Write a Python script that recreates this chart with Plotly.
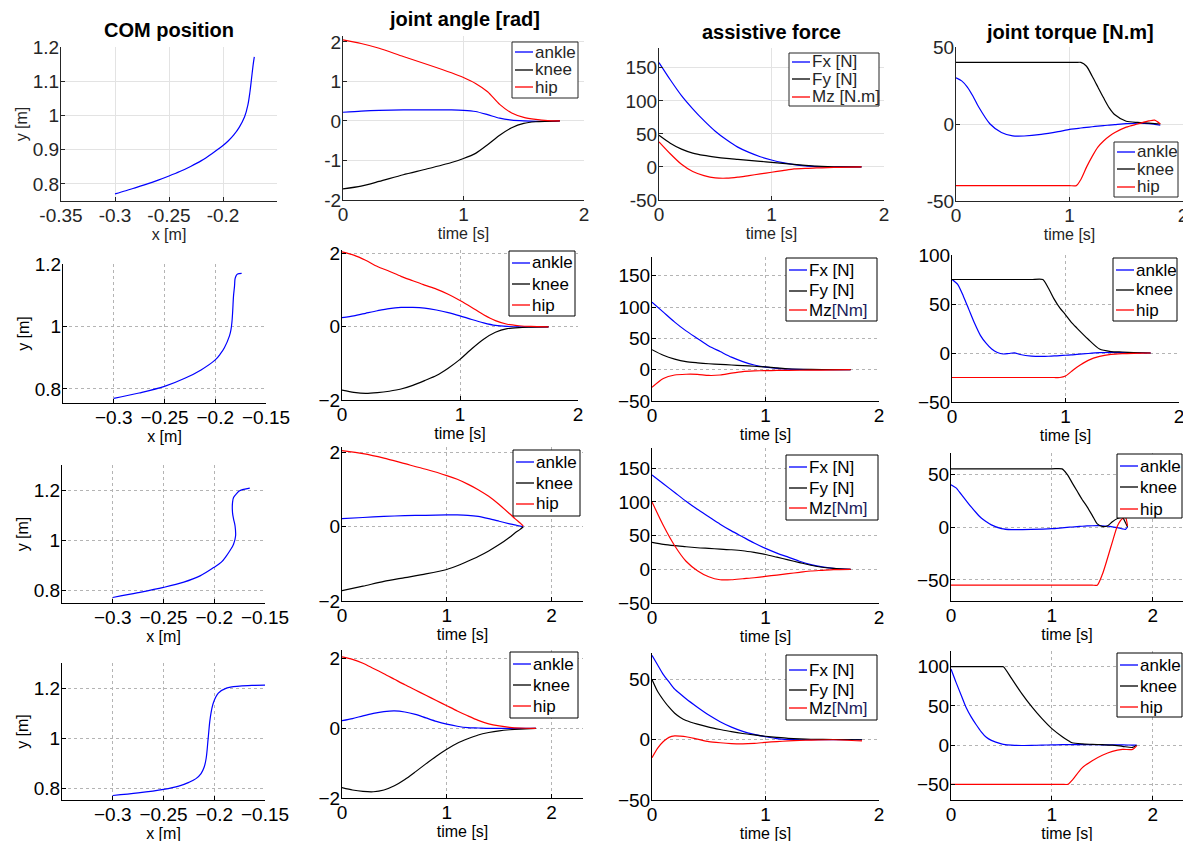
import plotly.graph_objects as go

# ------------------------------------------------------------------ data
# Row 1
COM1_X = [-0.300, -0.290, -0.280, -0.270, -0.260, -0.250, -0.240, -0.230, -0.220, -0.210, -0.200, -0.195, -0.190, -0.185, -0.180, -0.177, -0.175, -0.1735, -0.172, -0.171]
COM1_Y = [0.771, 0.780, 0.790, 0.800, 0.811, 0.823, 0.836, 0.851, 0.868, 0.889, 0.912, 0.926, 0.943, 0.965, 0.996, 1.030, 1.070, 1.110, 1.150, 1.171]
T1_ANG = [0, 0.15, 0.3, 0.5, 0.7, 0.9, 1.0, 1.1, 1.2, 1.3, 1.4, 1.5, 1.6, 1.7, 1.8]
ANG1_ANKLE = [0.22, 0.25, 0.27, 0.28, 0.28, 0.28, 0.27, 0.24, 0.16, 0.07, 0.02, 0.0, -0.01, -0.01, 0.0]
ANG1_KNEE = [-1.72, -1.65, -1.53, -1.36, -1.21, -1.05, -0.95, -0.82, -0.60, -0.36, -0.17, -0.06, -0.02, -0.01, 0.0]
ANG1_HIP = [2.05, 1.96, 1.84, 1.63, 1.43, 1.22, 1.10, 0.95, 0.74, 0.42, 0.20, 0.09, 0.04, 0.01, 0.0]
T1_FRC = [0, 0.1, 0.2, 0.3, 0.4, 0.5, 0.6, 0.7, 0.8, 0.9, 1.0, 1.1, 1.2, 1.3, 1.4, 1.5, 1.6, 1.8]
FRC1_FX = [158, 132, 108, 88, 70, 54, 41, 30, 22, 15.5, 10.5, 6.5, 3.5, 1.5, 0.5, 0, 0, 0]
FRC1_FY = [48, 36, 27, 21, 17.5, 15, 13, 11.5, 10, 8.5, 7, 5.5, 4, 2.5, 1.2, 0.5, 0.2, 0]
FRC1_MZ = [38, 20, 4, -7, -13, -16.5, -17, -15.5, -13, -10.5, -8, -5.5, -3, -2, -1.5, -1, -0.5, 0]
T1_TRQ = [0, 0.05, 0.1, 0.15, 0.2, 0.3, 0.4, 0.5, 0.6, 0.75, 0.9, 1.0, 1.06, 1.1, 1.15, 1.2, 1.25, 1.3, 1.35, 1.4, 1.5, 1.6, 1.7, 1.75, 1.8]
TRQ1_ANKLE = [30, 28, 24, 18, 11, 0, -5.5, -7.7, -7.8, -6.8, -5, -3.5, -3.0, -2.6, -2.2, -1.8, -1.4, -1.0, -0.7, -0.4, 0.2, 0.5, 0.3, -0.2, -0.8]
TRQ1_KNEE = [40, 40, 40, 40, 40, 40, 40, 40, 40, 40, 40, 40, 40, 40, 37.5, 31, 24, 17, 10.5, 6, 1.8, 1, 0.6, 0.3, 0]
TRQ1_HIP = [-40, -40, -40, -40, -40, -40, -40, -40, -40, -40, -40, -40, -40, -36, -28, -21, -15, -11, -8, -5.5, -2, 0, 2, 2.5, 0]

# Row 2
COM2_X = [-0.300, -0.275, -0.250, -0.230, -0.214, -0.200, -0.195, -0.191, -0.186, -0.1845, -0.1836, -0.1828, -0.182, -0.181, -0.1805, -0.1795, -0.178, -0.174]
COM2_Y = [0.770, 0.787, 0.808, 0.834, 0.861, 0.893, 0.912, 0.932, 0.970, 0.990, 1.013, 1.050, 1.098, 1.130, 1.152, 1.162, 1.168, 1.170]
T2_ANG = [0, 0.1, 0.2, 0.3, 0.4, 0.5, 0.6, 0.7, 0.8, 0.9, 1.0, 1.1, 1.2, 1.3, 1.4, 1.5, 1.6, 1.75]
ANG2_ANKLE = [0.25, 0.30, 0.37, 0.44, 0.50, 0.53, 0.53, 0.51, 0.46, 0.39, 0.30, 0.20, 0.11, 0.04, 0.01, 0, 0, 0]
ANG2_KNEE = [-1.73, -1.79, -1.82, -1.80, -1.76, -1.70, -1.60, -1.47, -1.33, -1.13, -0.89, -0.60, -0.34, -0.15, -0.05, -0.02, -0.01, 0]
ANG2_HIP = [2.05, 1.96, 1.82, 1.65, 1.52, 1.38, 1.26, 1.14, 1.03, 0.89, 0.72, 0.53, 0.33, 0.17, 0.07, 0.03, 0.01, 0]
T2_FRC = [0, 0.1, 0.2, 0.3, 0.4, 0.5, 0.6, 0.7, 0.8, 0.9, 1.0, 1.1, 1.2, 1.4, 1.6, 1.75]
FRC2_FX = [108, 92, 76, 62, 50, 38, 29, 20, 13, 7.5, 4, 2, 0.8, 0.2, 0, 0]
FRC2_FY = [32, 23, 17, 13, 11, 9.5, 8.5, 7.5, 6.5, 5.5, 4.5, 3, 1.5, 0.5, 0.2, 0]
FRC2_MZ = [-28, -14, -8.5, -7.3, -7.5, -9.2, -8.5, -5.5, -3, -2, -1.5, -1.2, -1, -0.8, -0.4, 0]
T2_TRQ = [0, 0.05, 0.1, 0.15, 0.2, 0.25, 0.3, 0.35, 0.4, 0.45, 0.5, 0.55, 0.6, 0.7, 0.8, 0.85, 0.9, 0.95, 1.0, 1.05, 1.1, 1.2, 1.3, 1.4, 1.5, 1.6, 1.75]
TRQ2_ANKLE = [75, 70, 58, 44, 30, 18, 10, 4, 0.5, -1, -0.5, 0.2, -1.5, -3.2, -3.5, -3.3, -3, -2.7, -2.3, -2, -1.5, -0.5, 0.3, 0.5, 0.3, 0.1, 0]
TRQ2_KNEE = [75, 75, 75, 75, 75, 75, 75, 75, 75, 75, 75, 75, 75, 75, 75, 66, 55, 46, 39, 31.5, 25.5, 14, 4, 1.5, 1, 0.5, 0]
TRQ2_HIP = [-25, -25, -25, -25, -25, -25, -25, -25, -25, -25, -25, -25, -25, -25, -25, -25, -25, -25, -23.5, -19, -14.5, -7.5, -3.5, -1.5, -0.7, -0.3, 0]

# Row 3
COM3_X = [-0.300, -0.275, -0.250, -0.230, -0.214, -0.2006, -0.193, -0.188, -0.184, -0.181, -0.179, -0.1795, -0.181, -0.182, -0.182, -0.181, -0.178, -0.175, -0.171, -0.165]
COM3_Y = [0.772, 0.791, 0.812, 0.833, 0.858, 0.891, 0.913, 0.938, 0.962, 0.984, 1.017, 1.057, 1.085, 1.110, 1.150, 1.170, 1.186, 1.197, 1.203, 1.208]
T3_ANG = [0, 0.2, 0.4, 0.6, 0.8, 1.0, 1.1, 1.2, 1.3, 1.4, 1.5, 1.6, 1.65, 1.7, 1.73]
ANG3_ANKLE = [0.22, 0.25, 0.28, 0.30, 0.31, 0.32, 0.32, 0.31, 0.28, 0.22, 0.15, 0.08, 0.05, 0.02, 0.0]
ANG3_KNEE = [-1.72, -1.60, -1.47, -1.37, -1.27, -1.15, -1.05, -0.93, -0.80, -0.65, -0.48, -0.28, -0.17, -0.07, 0.0]
ANG3_HIP = [2.05, 1.97, 1.85, 1.70, 1.55, 1.38, 1.28, 1.15, 1.00, 0.82, 0.60, 0.35, 0.22, 0.10, 0.02]
T3_FRC = [0, 0.1, 0.2, 0.3, 0.4, 0.5, 0.6, 0.7, 0.8, 0.9, 1.0, 1.1, 1.2, 1.3, 1.4, 1.5, 1.6, 1.75]
FRC3_FX = [140, 127, 114, 101, 89, 78, 67, 57, 48, 39, 31, 24, 18, 12, 7, 3.5, 1.5, 0]
FRC3_FY = [40, 37, 35, 33.5, 32, 31, 30, 29, 27.5, 25, 22, 18, 14, 10, 6, 3, 1.5, 0]
FRC3_MZ = [100, 65, 35, 12, -2, -11, -15.5, -15.5, -14, -12.5, -10.5, -8.5, -6.5, -4.5, -2.5, -1.5, -0.5, 0]
T3_TRQ = [0, 0.05, 0.1, 0.15, 0.2, 0.25, 0.3, 0.35, 0.4, 0.5, 0.6, 0.8, 1.0, 1.1, 1.15, 1.2, 1.25, 1.3, 1.35, 1.4, 1.45, 1.5, 1.55, 1.6, 1.65, 1.7, 1.73, 1.75]
TRQ3_ANKLE = [40, 37, 31, 25, 19, 13.5, 8.5, 5, 2, -1.5, -2.5, -2.3, -1.6, -0.8, -0.4, 0, 0.4, 0.7, 1, 1.2, 1.3, 1.2, 0.8, 0.2, -0.6, -1.8, -2.2, 0]
TRQ3_KNEE = [55, 55, 55, 55, 55, 55, 55, 55, 55, 55, 55, 55, 55, 55, 50, 42, 34, 26, 19, 11, 3, 0.5, 1, 5, 8, 9, 4, 0]
TRQ3_HIP = [-55, -55, -55, -55, -55, -55, -55, -55, -55, -55, -55, -55, -55, -55, -55, -55, -55, -55, -55, -55, -55, -45, -30, -14, 1, 8, 9, 1]

# Row 4
COM4_X = [-0.300, -0.275, -0.250, -0.235, -0.225, -0.218, -0.213, -0.210, -0.208, -0.206, -0.204, -0.201, -0.196, -0.188, -0.175, -0.160, -0.150]
COM4_Y = [0.773, 0.783, 0.797, 0.810, 0.825, 0.840, 0.860, 0.885, 0.920, 1.000, 1.080, 1.140, 1.180, 1.200, 1.208, 1.211, 1.212]
T4_ANG = [0, 0.1, 0.2, 0.3, 0.4, 0.5, 0.6, 0.7, 0.8, 0.9, 1.0, 1.1, 1.2, 1.3, 1.4, 1.5, 1.6, 1.7, 1.85]
ANG4_ANKLE = [0.22, 0.28, 0.36, 0.43, 0.48, 0.50, 0.47, 0.40, 0.30, 0.20, 0.12, 0.06, 0.02, 0.01, 0, 0, 0, 0, 0]
ANG4_KNEE = [-1.70, -1.77, -1.81, -1.82, -1.77, -1.65, -1.47, -1.25, -1.02, -0.80, -0.60, -0.43, -0.30, -0.19, -0.12, -0.07, -0.04, -0.02, 0]
ANG4_HIP = [2.05, 1.98, 1.87, 1.72, 1.57, 1.41, 1.25, 1.10, 0.95, 0.80, 0.65, 0.50, 0.36, 0.23, 0.13, 0.07, 0.03, 0.01, 0]
T4_FRC = [0, 0.05, 0.1, 0.15, 0.2, 0.25, 0.3, 0.4, 0.5, 0.6, 0.7, 0.8, 0.9, 1.0, 1.1, 1.2, 1.3, 1.4, 1.6, 1.85]
FRC4_FX = [70, 62, 54, 48, 42, 38, 34, 27, 20.5, 15, 10.5, 7, 4.5, 2.5, 1, 0.3, 0, 0, 0, 0]
FRC4_FY = [50, 40, 33, 27, 22, 18.5, 16, 13, 10.5, 8.5, 6.7, 5.2, 4, 2.9, 2, 1.2, 0.7, 0.4, 0.2, 0]
FRC4_MZ = [-15, -7, -1.5, 2, 3.2, 3, 2.5, 0.5, -1.5, -2.5, -3.2, -3.4, -3, -2.2, -1.5, -1, -0.6, -0.3, 0, -1]
T4_TRQ = [0, 0.05, 0.1, 0.15, 0.2, 0.25, 0.3, 0.35, 0.4, 0.5, 0.52, 0.6, 0.7, 0.8, 0.9, 1.0, 1.1, 1.16, 1.2, 1.3, 1.4, 1.5, 1.6, 1.7, 1.8, 1.84]
TRQ4_ANKLE = [97, 80, 64, 48, 36, 26, 17, 10, 6, 1.5, 1, 0, -0.5, -0.4, 0, 0.3, 0.5, 0.5, 0.5, 0.5, 0.5, 0.4, 0.3, 0.2, 0.1, 0]
TRQ4_KNEE = [100, 100, 100, 100, 100, 100, 100, 100, 100, 100, 100, 85, 66, 49, 34, 21, 11, 6, 3, 1.5, 1, 0.5, 0, -1.5, -3, 0]
TRQ4_HIP = [-50, -50, -50, -50, -50, -50, -50, -50, -50, -50, -50, -50, -50, -50, -50, -50, -50, -50, -45, -29, -20, -13, -8, -5.5, -5.5, -1]

# tick labels / titles / legend names
COL_TITLES = ["COM position", "joint angle [rad]", "assistive force", "joint torque [N.m]"]
JOINT_NAMES = ["ankle", "knee", "hip"]
FORCE_NAMES_1 = ["Fx [N]", "Fy [N]", "Mz [N.m]"]
FORCE_NAMES_2 = ["Fx [N]", "Fy [N]", "Mz<span style=\"color:#1c1c5a\">[Nm]</span>"]

# ------------------------------------------------------------------ layout helpers
W, H = 1191, 841
OFF = 8  # page body margin: screen px = figure px + OFF
BLUE, BLACK, RED = "#0000ff", "#000000", "#ff0000"
FONT = "Liberation Sans, Arial, sans-serif"


def lab(v, style):
    s = "%g" % v
    return s.replace("-", "\u2212") if style == "old" else s


# (row, col, left, right, top, bottom, xrange, yrange, xticks, yticks, xlabel, ylabel) in screen px
PANELS = [
    (1, 1, 61, 277, 47, 201, [-0.35, -0.15], [0.75, 1.2], [-0.35, -0.3, -0.25, -0.2, -0.15], [0.8, 0.9, 1, 1.1, 1.2], "x [m]", "y [m]"),
    (1, 2, 343, 584, 36, 200, [0, 2], [-2, 2.15], [0, 1, 2], [-2, -1, 0, 1, 2], "time [s]", None),
    (1, 3, 659, 884, 48, 200, [0, 2], [-50, 180], [0, 1, 2], [-50, 0, 50, 100, 150], "time [s]", None),
    (1, 4, 956, 1183, 47, 201, [0, 2], [-50, 50], [0, 1, 2], [-50, 0, 50], "time [s]", None),
    (2, 1, 63, 266, 264, 403, [-0.35, -0.15], [0.755, 1.2], [-0.3, -0.25, -0.2, -0.15], [0.8, 1, 1.2], "x [m]", "y [m]"),
    (2, 2, 342, 578, 250, 400, [0, 2], [-2, 2.1], [0, 1, 2], [-2, 0, 2], "time [s]", None),
    (2, 3, 652, 879, 257, 401, [0, 2], [-50, 180], [0, 1, 2], [-50, 0, 50, 100, 150], "time [s]", None),
    (2, 4, 952, 1179, 255, 402, [0, 2], [-50, 100], [0, 1, 2], [-50, 0, 50, 100], "time [s]", None),
    (3, 1, 62, 265, 465, 603, [-0.35, -0.15], [0.75, 1.3], [-0.3, -0.25, -0.2, -0.15], [0.8, 1, 1.2], "x [m]", "y [m]"),
    (3, 2, 342, 583, 447, 601, [0, 2.3], [-2, 2.15], [0, 1, 2], [-2, 0, 2], "time [s]", None),
    (3, 3, 652, 879, 448, 603, [0, 2], [-50, 180], [0, 1, 2], [-50, 0, 50, 100, 150], "time [s]", None),
    (3, 4, 951, 1183, 453, 601, [0, 2.3], [-70, 70], [0, 1, 2], [-50, 0, 50], "time [s]", None),
    (4, 1, 62, 265, 663, 800, [-0.35, -0.15], [0.755, 1.3], [-0.3, -0.25, -0.2, -0.15], [0.8, 1, 1.2], "x [m]", "y [m]"),
    (4, 2, 342, 583, 650, 798, [0, 2.3], [-2, 2.25], [0, 1, 2], [-2, 0, 2], "time [s]", None),
    (4, 3, 652, 879, 653, 800, [0, 2], [-50, 72], [0, 1, 2], [-50, 0, 50], "time [s]", None),
    (4, 4, 951, 1183, 651, 800, [0, 2.3], [-70, 120], [0, 1, 2], [-50, 0, 50, 100], "time [s]", None),
]

# legend boxes in screen px: left, right, top, bottom, item centre y's
LEGEND_BOX = {
    (1, 2): (512, 578, 42, 98, [52, 70, 87]),
    (1, 3): (789, 879, 53, 106, [62, 79, 97]),
    (1, 4): (1114, 1178, 142, 197, [152, 169, 187]),
    (2, 2): (509, 575, 251, 316, [263, 284, 305]),
    (2, 3): (786, 877, 258, 321, [270, 291, 310]),
    (2, 4): (1113, 1177, 258, 321, [270, 290, 310]),
    (3, 2): (513, 580, 450, 516, [462, 483, 504]),
    (3, 3): (786, 878, 455, 520, [467, 488, 508]),
    (3, 4): (1117, 1182, 454, 518, [466, 487, 509]),
    (4, 2): (510, 578, 652, 718, [664, 685, 706]),
    (4, 3): (786, 877, 655, 720, [670, 690, 708]),
    (4, 4): (1117, 1182, 653, 717, [665, 686, 707]),
}

SERIES = {
    (1, 1): [(COM1_X, COM1_Y, BLUE, None)],
    (2, 1): [(COM2_X, COM2_Y, BLUE, None)],
    (3, 1): [(COM3_X, COM3_Y, BLUE, None)],
    (4, 1): [(COM4_X, COM4_Y, BLUE, None)],
    (1, 2): [(T1_ANG, ANG1_ANKLE, BLUE, JOINT_NAMES[0]), (T1_ANG, ANG1_KNEE, BLACK, JOINT_NAMES[1]), (T1_ANG, ANG1_HIP, RED, JOINT_NAMES[2])],
    (2, 2): [(T2_ANG, ANG2_ANKLE, BLUE, JOINT_NAMES[0]), (T2_ANG, ANG2_KNEE, BLACK, JOINT_NAMES[1]), (T2_ANG, ANG2_HIP, RED, JOINT_NAMES[2])],
    (3, 2): [(T3_ANG, ANG3_ANKLE, BLUE, JOINT_NAMES[0]), (T3_ANG, ANG3_KNEE, BLACK, JOINT_NAMES[1]), (T3_ANG, ANG3_HIP, RED, JOINT_NAMES[2])],
    (4, 2): [(T4_ANG, ANG4_ANKLE, BLUE, JOINT_NAMES[0]), (T4_ANG, ANG4_KNEE, BLACK, JOINT_NAMES[1]), (T4_ANG, ANG4_HIP, RED, JOINT_NAMES[2])],
    (1, 3): [(T1_FRC, FRC1_FX, BLUE, FORCE_NAMES_1[0]), (T1_FRC, FRC1_FY, BLACK, FORCE_NAMES_1[1]), (T1_FRC, FRC1_MZ, RED, FORCE_NAMES_1[2])],
    (2, 3): [(T2_FRC, FRC2_FX, BLUE, FORCE_NAMES_2[0]), (T2_FRC, FRC2_FY, BLACK, FORCE_NAMES_2[1]), (T2_FRC, FRC2_MZ, RED, FORCE_NAMES_2[2])],
    (3, 3): [(T3_FRC, FRC3_FX, BLUE, FORCE_NAMES_2[0]), (T3_FRC, FRC3_FY, BLACK, FORCE_NAMES_2[1]), (T3_FRC, FRC3_MZ, RED, FORCE_NAMES_2[2])],
    (4, 3): [(T4_FRC, FRC4_FX, BLUE, FORCE_NAMES_2[0]), (T4_FRC, FRC4_FY, BLACK, FORCE_NAMES_2[1]), (T4_FRC, FRC4_MZ, RED, FORCE_NAMES_2[2])],
    (1, 4): [(T1_TRQ, TRQ1_ANKLE, BLUE, JOINT_NAMES[0]), (T1_TRQ, TRQ1_KNEE, BLACK, JOINT_NAMES[1]), (T1_TRQ, TRQ1_HIP, RED, JOINT_NAMES[2])],
    (2, 4): [(T2_TRQ, TRQ2_ANKLE, BLUE, JOINT_NAMES[0]), (T2_TRQ, TRQ2_KNEE, BLACK, JOINT_NAMES[1]), (T2_TRQ, TRQ2_HIP, RED, JOINT_NAMES[2])],
    (3, 4): [(T3_TRQ, TRQ3_ANKLE, BLUE, JOINT_NAMES[0]), (T3_TRQ, TRQ3_KNEE, BLACK, JOINT_NAMES[1]), (T3_TRQ, TRQ3_HIP, RED, JOINT_NAMES[2])],
    (4, 4): [(T4_TRQ, TRQ4_ANKLE, BLUE, JOINT_NAMES[0]), (T4_TRQ, TRQ4_KNEE, BLACK, JOINT_NAMES[1]), (T4_TRQ, TRQ4_HIP, RED, JOINT_NAMES[2])],
}


def px(xp):
    return (xp - OFF) / W


def py(yp):
    return 1 - (yp - OFF) / H


fig = go.Figure()
layout = dict(
    width=W, height=H, margin=dict(l=0, r=0, t=0, b=0, autoexpand=False),
    paper_bgcolor="white", plot_bgcolor="white", showlegend=False,
    font=dict(family=FONT, size=16, color="black"),
    annotations=[], shapes=[],
)

for k, (row, col, l, r, t, b, xr, yr, xt, yt, xlabel, ylabel) in enumerate(PANELS):
    i = k + 1
    sfx = "" if i == 1 else str(i)
    style = "new" if row == 1 else "old"
    axcol = "#262626" if style == "new" else "black"
    grid = dict(showgrid=True, gridcolor="#e3e3e3", gridwidth=1) if style == "new" else \
        dict(showgrid=True, gridcolor="#b4b4b4", gridwidth=1, griddash="dot")
    xtt = [lab(v, style) for v in xt]
    if (row, col) == (1, 1):
        xtt[-1] = ""
    common = dict(showline=True, linecolor=axcol, linewidth=1, mirror=False, zeroline=False,
                  ticks="inside", ticklen=4, tickcolor=axcol, tickmode="array", automargin=False,
                  ticklabelstandoff=-3,
                  tickfont=dict(family=FONT, size=19, color=axcol), **grid)
    layout["xaxis" + sfx] = dict(domain=[px(l), px(r)], range=xr, anchor="y" + sfx,
                                 tickvals=xt, ticktext=xtt,
                                 title=dict(text=xlabel, font=dict(size=16, color=axcol), standoff=0),
                                 **common)
    layout["yaxis" + sfx] = dict(domain=[py(b), py(t)], range=yr, anchor="x" + sfx,
                                 tickvals=yt, ticktext=[lab(v, style) for v in yt],
                                 title=dict(text=ylabel, font=dict(size=16, color=axcol), standoff=1) if ylabel else None,
                                 **common)
    if row == 1:
        layout["annotations"].append(dict(
            text="<b>%s</b>" % COL_TITLES[col - 1], xref="paper", yref="paper",
            x=px((l + r) / 2) if col != 2 else px(464),
            y=py({1: 30, 2: 19, 3: 32, 4: 32}[col]),
            xanchor="center", yanchor="middle", showarrow=False,
            font=dict(family=FONT, size=20, color="black")))

    for xs, ys, color, name in SERIES[(row, col)]:
        fig.add_trace(go.Scatter(
            x=xs, y=ys, mode="lines", name=name or "COM",
            line=dict(color=color, width=1.2, shape="spline", smoothing=1.0 if col == 1 else 0.7),
            xaxis="x" + sfx, yaxis="y" + sfx, hoverinfo="skip"))

    # legend box drawn as paper-referenced shapes and text
    if (row, col) in LEGEND_BOX:
        bl, br, bt, bb, ys_items = LEGEND_BOX[(row, col)]
        layout["shapes"].append(dict(type="rect", xref="paper", yref="paper", layer="above",
                                     x0=px(bl), x1=px(br), y0=py(bb), y1=py(bt),
                                     line=dict(color=axcol, width=1), fillcolor="white"))
        for (xs, ys, color, name), yc in zip(SERIES[(row, col)], ys_items):
            layout["shapes"].append(dict(type="line", xref="paper", yref="paper", layer="above",
                                         x0=px(bl + 3), x1=px(bl + 21), y0=py(yc), y1=py(yc),
                                         line=dict(color=color, width=1.3)))
            layout["annotations"].append(dict(
                text=name, xref="paper", yref="paper", x=px(bl + 21), y=py(yc),
                xanchor="left", yanchor="middle", showarrow=False,
                font=dict(family=FONT, size=17, color=axcol)))

fig.update_layout(**layout)
fig.write_html("out.html")
